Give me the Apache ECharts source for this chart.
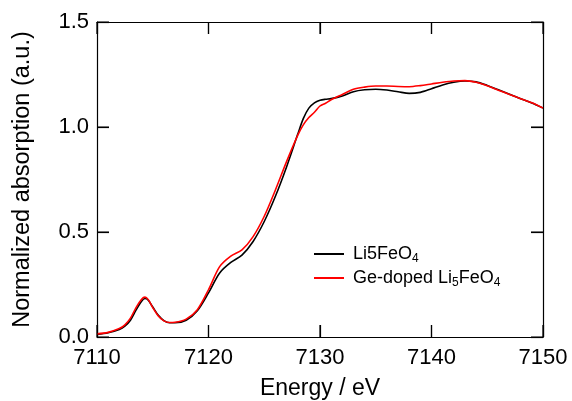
<!DOCTYPE html>
<html>
<head>
<meta charset="utf-8">
<script src="https://cdn.jsdelivr.net/npm/echarts@6/dist/echarts.min.js"></script>
</head>
<body style="margin:0;background:#fff">
<div id="chart" style="width:572px;height:401px"></div>
<script>
var energies = [7110, 7111, 7112, 7112.5, 7113, 7113.5, 7114, 7114.3, 7114.6, 7115, 7115.5, 7116, 7116.5, 7117, 7118, 7119, 7120, 7121, 7122, 7123, 7124, 7125, 7126, 7127, 7128, 7128.5, 7129, 7129.5, 7130, 7130.5, 7131, 7132, 7133, 7134, 7135, 7136, 7137, 7138, 7139, 7140, 7141, 7142, 7143, 7144, 7145, 7146, 7147, 7148, 7149, 7150];
var li5feo4 = [0.012, 0.02, 0.036, 0.052, 0.08, 0.128, 0.17, 0.183, 0.175, 0.143, 0.103, 0.078, 0.068, 0.068, 0.08, 0.125, 0.21, 0.305, 0.355, 0.39, 0.455, 0.55, 0.67, 0.81, 0.965, 1.04, 1.09, 1.115, 1.127, 1.132, 1.135, 1.148, 1.168, 1.177, 1.18, 1.176, 1.168, 1.16, 1.165, 1.182, 1.2, 1.213, 1.219, 1.215, 1.198, 1.177, 1.156, 1.135, 1.114, 1.09];
var geDoped = [0.015, 0.022, 0.04, 0.058, 0.09, 0.14, 0.18, 0.19, 0.178, 0.14, 0.1, 0.077, 0.069, 0.07, 0.085, 0.13, 0.225, 0.335, 0.385, 0.415, 0.478, 0.575, 0.7, 0.835, 0.96, 1.01, 1.045, 1.07, 1.1, 1.113, 1.13, 1.155, 1.18, 1.19, 1.195, 1.195, 1.193, 1.192, 1.197, 1.205, 1.213, 1.219, 1.221, 1.213, 1.196, 1.175, 1.155, 1.135, 1.115, 1.09];
var seriesNames = ['Li5FeO4', 'Ge-doped Li5FeO4'];
var xTicks = [7110, 7120, 7130, 7140, 7150];
var yTicks = [0.0, 0.5, 1.0, 1.5];

function pairs(xs, ys) { return xs.map(function (x, i) { return [x, ys[i]]; }); }

var FONT = '"Liberation Sans", Arial, sans-serif';
var xMin = xTicks[0], xMax = xTicks[xTicks.length - 1];
var yMin = yTicks[0], yMax = yTicks[yTicks.length - 1];
// inward tick length (~12 px) expressed in axis units of the 446 x 315 px plot area
var tickLenX = (xMax - xMin) * 12 / 446;
var tickLenY = (yMax - yMin) * 12 / 315;

function base(kind, pos, ticks, showLabel) {
  return {
    type: 'value', position: pos, min: ticks[0], max: ticks[ticks.length - 1], interval: ticks[1] - ticks[0],
    axisLine: {show: true, onZero: false, lineStyle: {color: '#000', width: 1.2}},
    axisTick: {show: true, inside: true, length: 12, lineStyle: {color: '#000', width: 1.2}},
    splitLine: {show: false},
    axisLabel: {
      show: showLabel, color: '#000', fontSize: 22, fontFamily: FONT,
      formatter: kind === 'x' ? function (v) { return String(v); } : function (v) { return v.toFixed(1); }
    }
  };
}

var xBottom = base('x', 'bottom', xTicks, true);
xBottom.axisLabel.margin = 10;
xBottom.name = 'Energy / eV';
xBottom.nameLocation = 'middle';
xBottom.nameGap = 40;
xBottom.nameTextStyle = {color: '#000', fontSize: 23, fontFamily: FONT};
var xTop = base('x', 'top', xTicks, false);
var yLeft = base('y', 'left', yTicks, true);
yLeft.name = 'Normalized absorption (a.u.)';
yLeft.nameLocation = 'middle';
yLeft.nameGap = 62;
yLeft.nameTextStyle = {color: '#000', fontSize: 23.5, fontFamily: FONT};
var yRight = base('y', 'right', yTicks, false);

// inward tick marks on all four sides, built from the tick arrays,
// drawn as a broken line ('-' separates the segments)
var tickData = [];
xTicks.forEach(function (x) {
  tickData.push([x, yMin], [x, yMin + tickLenY], '-');
  tickData.push([x, yMax], [x, yMax - tickLenY], '-');
});
yTicks.forEach(function (y) {
  tickData.push([xMin, y], [xMin + tickLenX, y], '-');
  tickData.push([xMax, y], [xMax - tickLenX, y], '-');
});

var legendRich = {
  n: {fontSize: 18, fontFamily: FONT, color: '#000', lineHeight: 22},
  s: {fontSize: 12, fontFamily: FONT, color: '#000', lineHeight: 12, padding: [10, 0, 0, 0]}
};

var chart = echarts.init(document.getElementById('chart'));
chart.setOption({
  animation: false,
  grid: {left: 97, right: 29, top: 22, bottom: 64, outerBoundsMode: 'none'},
  legend: {
    orient: 'vertical', left: 309, top: 238, itemGap: 2, itemWidth: 30, itemHeight: 2, icon: 'rect',
    data: seriesNames,
    textStyle: {rich: legendRich, padding: [0, 0, 0, 4]},
    formatter: function (name) {
      if (name === seriesNames[0]) return '{n|Li5FeO}{s|4}';
      return '{n|Ge-doped Li}{s|5}{n|FeO}{s|4}';
    }
  },
  xAxis: [xBottom, xTop],
  yAxis: [yLeft, yRight],
  series: [
    {name: 'axis ticks', type: 'line', silent: true, showSymbol: false, symbol: 'none',
     connectNulls: false, clip: false, z: 5,
     lineStyle: {color: '#000', width: 1.2}, itemStyle: {color: '#000'},
     emphasis: {disabled: true}, tooltip: {show: false},
     data: tickData},
    {name: seriesNames[0], type: 'line', smooth: 0.3, showSymbol: false,
     lineStyle: {color: '#000', width: 1.6}, itemStyle: {color: '#000'},
     data: pairs(energies, li5feo4)},
    {name: seriesNames[1], type: 'line', smooth: 0.3, showSymbol: false,
     lineStyle: {color: '#ff0000', width: 1.6}, itemStyle: {color: '#ff0000'},
     data: pairs(energies, geDoped)}
  ]
});
</script>
</body>
</html>
